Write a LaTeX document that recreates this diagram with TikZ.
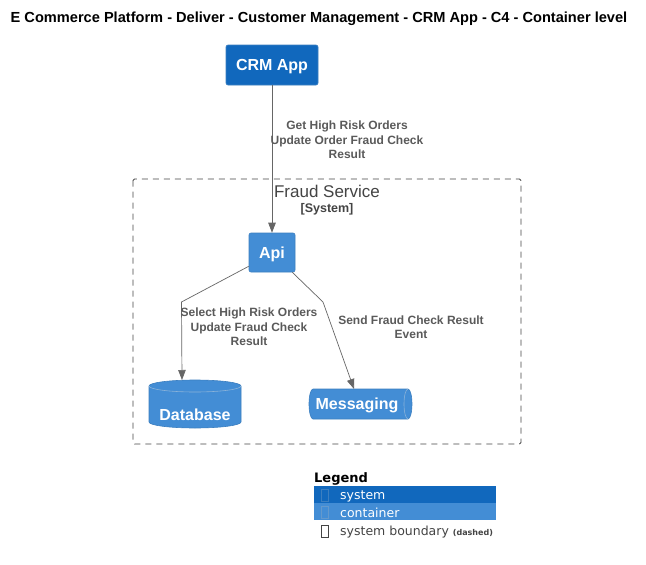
\documentclass[tikz,border=0pt]{standalone}
\usepackage{fontspec}
\setmainfont{Liberation Sans}
\newfontfamily\legendfont{DejaVu Sans}
\usetikzlibrary{arrows.meta,calc}
\definecolor{sysblue}{HTML}{1168BD}
\definecolor{contblue}{HTML}{438DD5}
\definecolor{bordblue}{HTML}{3C7FC0}
\definecolor{linegray}{HTML}{666666}
\definecolor{labgray}{HTML}{5A5A5A}
\definecolor{darkgray}{HTML}{444444}
\tikzset{
  sysbox/.style={rectangle, rounded corners=2pt, fill=sysblue, draw=bordblue, line width=0.6pt,
    text=white, font=\bfseries\fontsize{16}{18}\selectfont, inner sep=0pt, text depth=0pt},
  contbox/.style={rectangle, rounded corners=2pt, fill=contblue, draw=bordblue, line width=0.6pt,
    text=white, font=\bfseries\fontsize{16}{18}\selectfont, inner sep=0pt, text depth=0pt},
  rel/.style={draw=linegray, line width=0.7pt, -{Triangle[length=10pt,width=7.5pt]}},
  rellabel/.style={text=labgray, font=\bfseries\fontsize{12}{14.5}\selectfont, align=center, inner sep=0pt},
  celltext/.style={font=\bfseries\fontsize{16}{18}\selectfont, text=white, inner sep=0pt},
  legtext/.style={font=\legendfont\fontsize{12.5}{14}\selectfont, anchor=west, inner sep=0pt},
  tofu/.style={draw, line width=0.5pt, minimum width=7pt, minimum height=12pt, inner sep=0pt}
}
\begin{document}
\begin{tikzpicture}[x=1pt,y=-1pt]
\useasboundingbox[fill=white] (0,0) rectangle (646,565);

% title
\node[font=\bfseries\fontsize{14.6}{17}\selectfont, inner sep=0pt] (title) at (319,19) {E Commerce Platform - Deliver - Customer Management - CRM App - C4 - Container level};

% boundary
\draw[dash pattern=on 6pt off 5pt, draw=darkgray, line width=0.9pt, rounded corners=1.5pt] (133,179) rectangle (521,444);
\node[text=darkgray, font=\fontsize{17}{19}\selectfont, inner sep=0pt] (btitle) at (327,191) {Fraud Service};
\node[text=darkgray, font=\bfseries\fontsize{12.5}{14}\selectfont, inner sep=0pt] (btype) at (327,209) {[System]};

% CRM App
\node[sysbox, minimum width=92pt, minimum height=40pt] (crm) at (272,65) {CRM App};
% Api
\node[contbox, minimum width=46pt, minimum height=39pt] (api) at (272,252.5) {Api};

% Database cylinder
\coordinate (dbtop) at (182,380);
\filldraw[fill=contblue, draw=bordblue, line width=0.6pt]
  (149,386) arc[start angle=180, end angle=360, x radius=46, y radius=6]
  -- (241,422) arc[start angle=0, end angle=180, x radius=46, y radius=6] -- cycle;
\draw[draw=bordblue!60!white, line width=0.6pt] (149,386) arc[start angle=180, end angle=0, x radius=46, y radius=6];
\node[celltext] (db) at (195,414.5) {Database};

% Messaging cylinder
\coordinate (msgtop) at (354,389);
\filldraw[fill=contblue, draw=bordblue, line width=0.6pt]
  (313,389) -- (408,389) arc[start angle=270, end angle=450, x radius=4, y radius=15]
  -- (313,419) arc[start angle=90, end angle=270, x radius=4, y radius=15] -- cycle;
\draw[draw=bordblue!60!white, line width=0.6pt] (408,389) arc[start angle=270, end angle=90, x radius=4, y radius=15];
\node[celltext] (msg) at (357,405.5) {Messaging};

% relations
\draw[rel] (crm.south) -- (api.north);
\node[rellabel] (l1) at (347,140) {Get High Risk Orders\\Update Order Fraud Check\\Result};

\draw[rel] ($(api.south west)+(0,-6)$) -- (181.5,302) -- (dbtop);
\node[rellabel] (l2) at (249,327) {Select High Risk Orders\\Update Fraud Check\\Result};

\draw[rel] ($(api.south east)+(-3,0)$) -- (323,302) -- (msgtop);
\node[rellabel] (l3) at (411,327) {Send Fraud Check Result\\Event};

% legend
\node[font=\legendfont\bfseries\fontsize{13}{15}\selectfont, anchor=west, inner sep=0pt] (legtitle) at (314,479) {Legend};
\fill[sysblue] (314,486) rectangle (496,503);
\fill[contblue] (314,503) rectangle (496,520);
\node[tofu, draw=bordblue] (t1) at (324.5,495) {};
\node[tofu, draw=bordblue!80!white] (t2) at (324.5,512) {};
\node[tofu, draw=darkgray] (t3) at (324.5,531) {};
\node[legtext, text=white] (ls) at (340,496) {system};
\node[legtext, text=white] (lc) at (340,513) {container};
\node[legtext, text=darkgray] (lb) at (340,532) {system boundary {\bfseries\fontsize{8}{10}\selectfont (dashed)}};
\end{tikzpicture}
\end{document}
